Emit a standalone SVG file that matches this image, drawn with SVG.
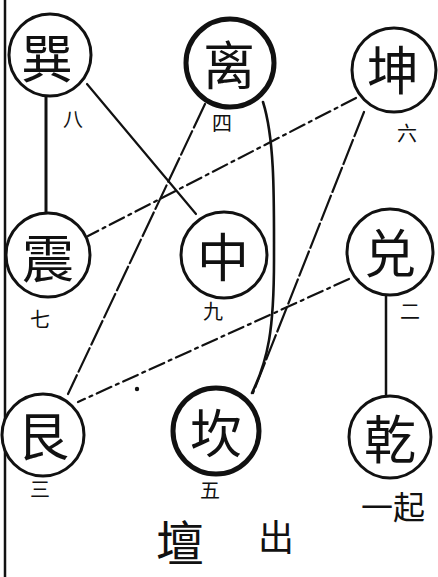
<svg xmlns="http://www.w3.org/2000/svg" width="438" height="577" viewBox="0 0 438 577">
<style>
.c{fill:#fff;stroke:#111;stroke-width:3}
.ck{stroke-width:5}
.g{font-family:"Noto Sans CJK SC","Noto Sans CJK TC",sans-serif;fill:#111;text-anchor:middle;dominant-baseline:central}
.m{font-size:52px;font-weight:400}
.n{font-size:20px;font-weight:400}
.ln{fill:none;stroke:#111;stroke-width:2.2;stroke-linecap:round}
.dd{stroke-dasharray:16 5 3 5}
.dk{stroke-dasharray:26 4}
</style>
<rect width="438" height="577" fill="#fff"/>
<line x1="5" y1="0" x2="5" y2="577" stroke="#111" stroke-width="2.5"/>
<g id="connectors">
<path class="ln" d="M46,96 L46,213" style="stroke-width:3"/>
<path class="ln" d="M87,84 L196,214"/>
<path class="ln dk" d="M205,104 L68,394"/>
<path class="ln dd" d="M356,98 L88,236"/>
<path class="ln dk" d="M364,112 L253,393"/>
<path class="ln" d="M263,102 C275,140 274,200 274,260 C274,330 268,360 252,393" style="stroke-width:2.6"/>
<path class="ln dd" d="M349,279 L78,402"/>
<path class="ln" d="M386,295 L386,397" style="stroke-width:2.5"/>
<circle cx="137" cy="389" r="2.2" fill="#111"/>
</g>
<g id="xun"><circle class="c" cx="50" cy="55" r="41"/><text class="g m" x="47" y="55">巽</text><text class="g n" x="73" y="118">八</text></g>
<g id="li"><circle class="c ck" cx="230" cy="63" r="44"/><text class="g m" x="229" y="62">离</text><text class="g n" x="222" y="122">四</text></g>
<g id="kun"><circle class="c" cx="394" cy="70" r="42"/><text class="g m" x="393" y="67">坤</text><text class="g n" x="407" y="132">六</text></g>
<g id="zhen"><circle class="c" cx="48" cy="255" r="42"/><text class="g m" x="48" y="255">震</text><text class="g n" x="40" y="318">七</text></g>
<g id="zhong"><circle class="c" cx="224" cy="255" r="43"/><text class="g m" x="223" y="254">中</text><text class="g n" x="213" y="310">九</text></g>
<g id="dui"><circle class="c" cx="390" cy="252" r="43"/><text class="g m" x="390" y="250">兑</text><text class="g n" x="410" y="310">二</text></g>
<g id="gen"><circle class="c" cx="43" cy="435" r="41"/><text class="g m" x="43" y="433">艮</text><text class="g n" x="40" y="488">三</text></g>
<g id="kan"><circle class="c ck" cx="216" cy="431" r="43"/><text class="g m" x="216" y="430">坎</text><text class="g n" x="210" y="489">五</text></g>
<g id="qian"><circle class="c" cx="390" cy="437" r="41"/><text class="g m" x="390" y="436">乾</text><text class="g" style="font-size:32px" x="393" y="505">一起</text></g>
<g id="title"><text class="g" style="font-size:48px" x="180" y="540">壇</text><text class="g" style="font-size:36px" x="276" y="535">出</text></g>
</svg>
